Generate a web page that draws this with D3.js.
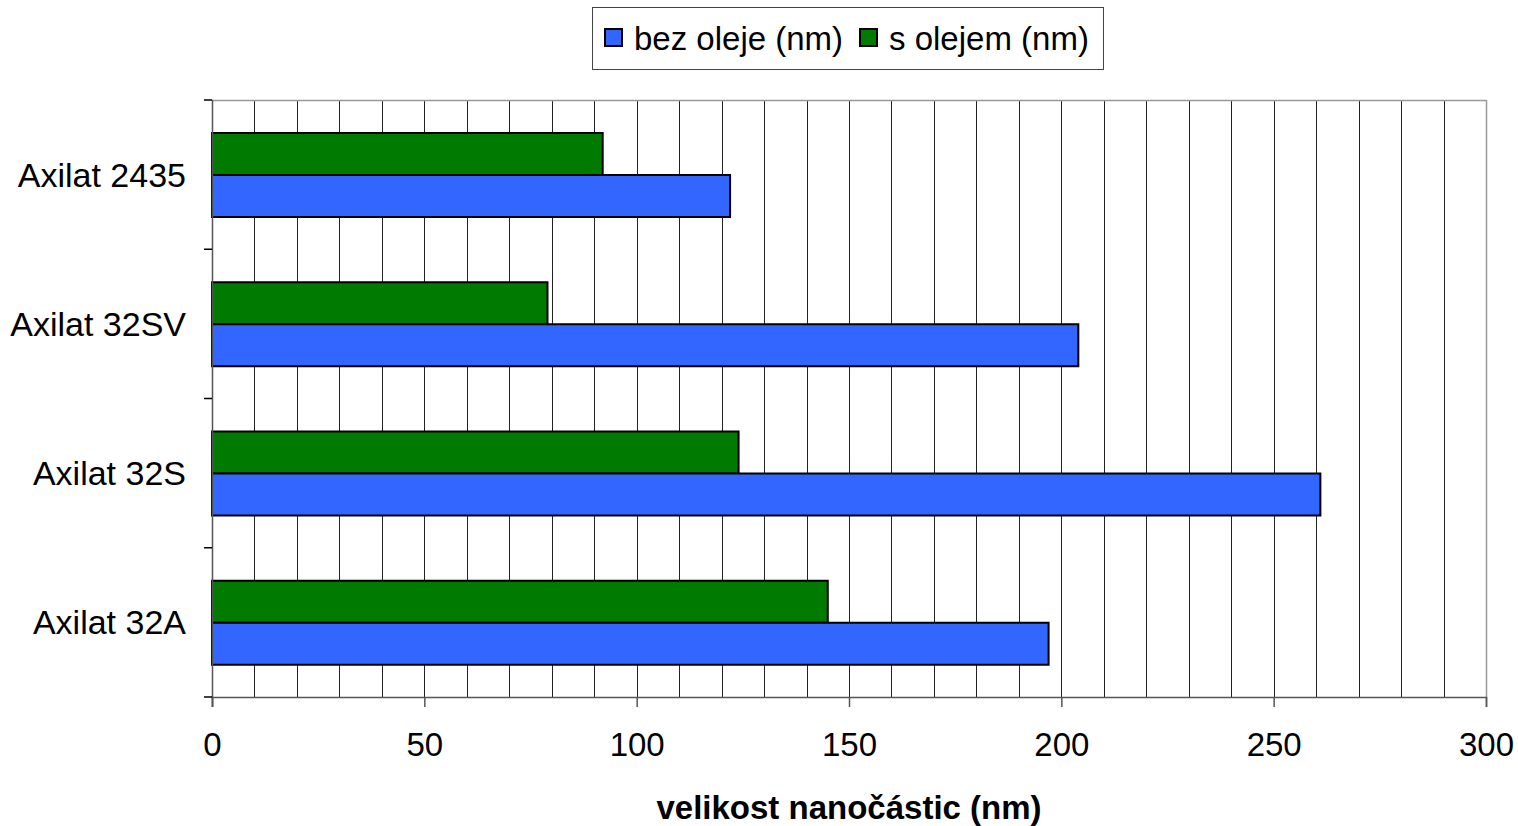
<!DOCTYPE html>
<html>
<head>
<meta charset="utf-8">
<script src="https://d3js.org/d3.v7.min.js"></script>
<style>
  body { margin: 0; background: #fff; }
  text { font-family: "Liberation Sans", Arial, sans-serif; fill: #000; }
</style>
</head>
<body>
<div id="chart"></div>
<script>
// data
var categories = ["Axilat 2435", "Axilat 32SV", "Axilat 32S", "Axilat 32A"];
var bezOleje = [122, 204, 261, 197];   // blue
var sOlejem = [92, 79, 124, 145];      // green
var seriesNames = ["bez oleje (nm)", "s olejem (nm)"];
var seriesColors = ["#3366ff", "#007a00"];
var xTicks = [0, 50, 100, 150, 200, 250, 300];

var W = 1518, H = 826;
var margin = { top: 100, right: 32, bottom: 129, left: 212 },
    width = W - margin.left - margin.right,
    height = H - margin.top - margin.bottom;
var fontSize = "33px";

var svg = d3.select("#chart").append("svg")
    .attr("width", W)
    .attr("height", H);

var g = svg.append("g")
    .attr("transform", "translate(" + margin.left + "," + margin.top + ")");

var x = d3.scaleLinear().domain([0, 300]).range([0, width]);
var y = d3.scaleBand().domain(categories).range([0, height]);

// vertical grid every 10 nm
g.selectAll(".grid")
    .data(d3.range(10, 300, 10))
    .enter().append("line")
    .attr("x1", d => Math.round(x(d)) + 0.5)
    .attr("x2", d => Math.round(x(d)) + 0.5)
    .attr("y1", 0)
    .attr("y2", height)
    .attr("stroke", "#222")
    .attr("stroke-width", 1);

// plot frame (top & right grey)
g.append("line").attr("x1", 0).attr("x2", width).attr("y1", 0.5).attr("y2", 0.5)
    .attr("stroke", "#999").attr("stroke-width", 1.5);
g.append("line").attr("x1", width + 0.5).attr("x2", width + 0.5).attr("y1", 0).attr("y2", height)
    .attr("stroke", "#999").attr("stroke-width", 1.5);

// bars
var pad = 33, barH = 42;
var rows = categories.map((c, i) => ({ cat: c, blue: bezOleje[i], green: sOlejem[i] }));

g.selectAll(".bar-green")
    .data(rows)
    .enter().append("rect")
    .attr("x", x(0))
    .attr("y", d => y(d.cat) + pad)
    .attr("width", d => x(d.green) - x(0))
    .attr("height", barH)
    .attr("fill", seriesColors[1])
    .attr("stroke", "#000")
    .attr("stroke-width", 2);

g.selectAll(".bar-blue")
    .data(rows)
    .enter().append("rect")
    .attr("x", x(0))
    .attr("y", d => y(d.cat) + pad + barH)
    .attr("width", d => x(d.blue) - x(0))
    .attr("height", barH)
    .attr("fill", seriesColors[0])
    .attr("stroke", "#000")
    .attr("stroke-width", 2);

// x axis
var xAxis = g.append("g")
    .attr("transform", "translate(0," + height + ")")
    .call(d3.axisBottom(x).tickValues(xTicks).tickSize(10).tickPadding(26));
xAxis.select(".domain").attr("stroke", "#555").attr("stroke-width", 1.5);
xAxis.selectAll(".tick line").attr("stroke", "#555").attr("stroke-width", 1.5);
xAxis.selectAll("text")
    .style("font-family", "'Liberation Sans', Arial, sans-serif")
    .style("font-size", fontSize);

// y axis: ticks at band boundaries, labels centered
var yAxisG = g.append("g");
yAxisG.append("line").attr("x1", 0.5).attr("x2", 0.5).attr("y1", 0).attr("y2", height + 10)
    .attr("stroke", "#555").attr("stroke-width", 1.5);
yAxisG.selectAll(".ytick")
    .data(d3.range(categories.length + 1))
    .enter().append("line")
    .attr("x1", -8).attr("x2", 0)
    .attr("y1", i => i * y.step())
    .attr("y2", i => i * y.step())
    .attr("stroke", "#000").attr("stroke-width", 1.5);
yAxisG.selectAll(".ylab")
    .data(categories)
    .enter().append("text")
    .attr("x", -26)
    .attr("y", d => y(d) + y.bandwidth() / 2)
    .attr("dy", "0.35em")
    .attr("text-anchor", "end")
    .style("font-size", "34px")
    .text(d => d);

// axis title
svg.append("text")
    .attr("x", margin.left + width / 2)
    .attr("y", 819)
    .attr("text-anchor", "middle")
    .style("font-size", fontSize)
    .style("font-weight", "bold")
    .text("velikost nanočástic (nm)");

// legend
var legend = svg.append("g").attr("transform", "translate(592,7)");
legend.append("rect")
    .attr("x", 0.5).attr("y", 0.5)
    .attr("width", 511).attr("height", 62)
    .attr("fill", "#fff").attr("stroke", "#444").attr("stroke-width", 1);
var legendX = [13, 268];
seriesNames.forEach(function (name, i) {
    legend.append("rect")
        .attr("x", legendX[i]).attr("y", 22)
        .attr("width", 17).attr("height", 17)
        .attr("fill", seriesColors[i])
        .attr("stroke", "#000").attr("stroke-width", 2);
    legend.append("text")
        .attr("x", legendX[i] + 29)
        .attr("y", 31)
        .attr("dy", "0.35em")
        .style("font-size", fontSize)
        .text(name);
});
</script>
</body>
</html>
